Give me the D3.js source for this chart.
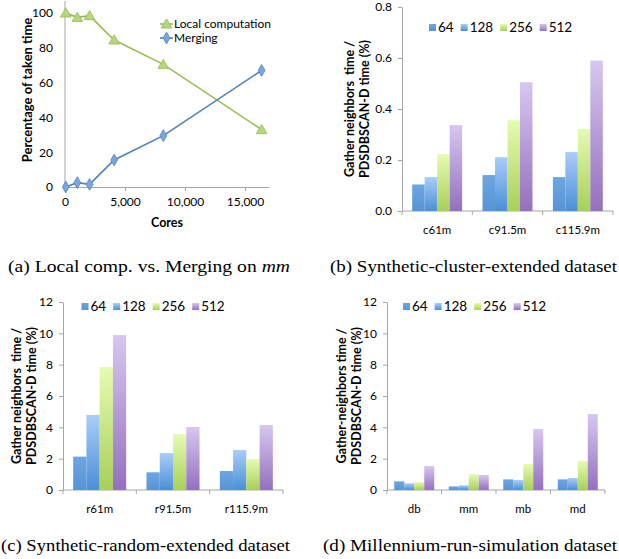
<!DOCTYPE html>
<html>
<head>
<meta charset="utf-8">
<script src="https://cdn.jsdelivr.net/npm/d3@7"></script>
<style>
  body { margin: 0; background: #fff; }
  text { font-family: Lato, "Open Sans", sans-serif; fill: #000; white-space: pre; }
  .cap { font-family: "Liberation Serif", "Times New Roman", serif; }
</style>
</head>
<body>
<script>
// (a) local computation vs merging
var cores = [64, 1024, 2048, 4096, 8192, 16384];
var localComp = [100, 97.5, 98.5, 84.5, 70.5, 33];
var merging = [0, 2.5, 1.5, 15.5, 29.5, 67];

// bar series
var seriesNames = ["64", "128", "256", "512"];
var clusterCats = ["c61m", "c91.5m", "c115.9m"];
var clusterVals = [
  [0.104, 0.133, 0.223, 0.337],
  [0.141, 0.211, 0.356, 0.505],
  [0.133, 0.231, 0.322, 0.59]
];
var randomCats = ["r61m", "r91.5m", "r115.9m"];
var randomVals = [
  [2.13, 4.79, 7.85, 9.89],
  [1.13, 2.36, 3.57, 4.02],
  [1.21, 2.55, 1.98, 4.15]
];
var millCats = ["db", "mm", "mb", "md"];
var millVals = [
  [0.55, 0.43, 0.51, 1.53],
  [0.23, 0.30, 1.02, 0.96],
  [0.68, 0.64, 1.66, 3.89],
  [0.68, 0.77, 1.85, 4.85]
];

var width = 619, height = 559;
var axisColor = "#a6a6a6";

var svg = d3.select("body").append("svg")
    .attr("width", width)
    .attr("height", height);

// gradients like excel bars: light top, darker bottom
var grads = [
  ["#6fa5e0", "#5794d6"],
  ["#aacdf8", "#4a8fd8"],
  ["#e6fbb2", "#a8cf58"],
  ["#d7c7ef", "#9470bf"]
];
var defs = svg.append("defs");
grads.forEach(function(g, i) {
  var lg = defs.append("linearGradient")
      .attr("id", "g" + i)
      .attr("x1", 0).attr("y1", 0).attr("x2", 0).attr("y2", 1);
  lg.append("stop").attr("offset", "0%").attr("stop-color", g[0]);
  lg.append("stop").attr("offset", "100%").attr("stop-color", g[1]);
});

function styleAxis(g) {
  g.selectAll("path, line").attr("stroke", axisColor);
  g.selectAll("text").style("font-size", "12px").style("font-family", "Lato, sans-serif");
}

// ---------- panel (a) ----------
(function() {
  var x = d3.scaleLinear().domain([0, 17000]).range([65, 269]);
  var y = d3.scaleLinear().domain([0, 100]).range([187, 13]);

  svg.append("g")
      .attr("transform", "translate(0," + y(0) + ")")
      .call(d3.axisBottom(x).tickValues([0, 5000, 10000, 15000])
        .tickFormat(d3.format(",")).tickSize(4).tickPadding(6).tickSizeOuter(0))
      .call(styleAxis);
  svg.append("g")
      .attr("transform", "translate(" + x(0) + ",0)")
      .call(d3.axisLeft(y).tickValues([0, 20, 40, 60, 80, 100]).tickSize(0).tickPadding(12))
      .call(styleAxis)
      .call(function(g) { g.select(".domain").remove(); });
  svg.append("line")
      .attr("x1", x(0)).attr("x2", x(0)).attr("y1", y(0)).attr("y2", y(100) - 12)
      .attr("stroke", axisColor);

  var line = d3.line().x(function(d, i) { return x(cores[i]); }).y(function(d) { return y(d); });

  var tri = d3.symbol().type(d3.symbolTriangle).size(50);
  var dia = d3.symbol().type(d3.symbolDiamond).size(40);

  svg.append("path").datum(localComp).attr("d", line)
      .attr("fill", "none").attr("stroke", "#9bbb59").attr("stroke-width", 1.6);
  svg.append("path").datum(merging).attr("d", line)
      .attr("fill", "none").attr("stroke", "#4f81bd").attr("stroke-width", 1.6);

  svg.selectAll(".tri").data(localComp).enter().append("path")
      .attr("d", tri)
      .attr("transform", function(d, i) { return "translate(" + x(cores[i]) + "," + (y(d) + 1) + ")"; })
      .attr("fill", "#b5d67a").attr("stroke", "#9bbb59").attr("stroke-width", 0.8);
  svg.selectAll(".dia").data(merging).enter().append("path")
      .attr("d", dia)
      .attr("transform", function(d, i) { return "translate(" + x(cores[i]) + "," + y(d) + ")"; })
      .attr("fill", "#7aa7dd").attr("stroke", "#4f81bd").attr("stroke-width", 0.8);

  // legend
  var lg = [["Local computation", "#9bbb59", tri, "#b5d67a"], ["Merging", "#4f81bd", dia, "#7aa7dd"]];
  lg.forEach(function(d, i) {
    var ly = 24 + i * 14;
    svg.append("line").attr("x1", 160).attr("x2", 173).attr("y1", ly).attr("y2", ly)
        .attr("stroke", d[1]).attr("stroke-width", 1.6);
    svg.append("path").attr("d", d[2]).attr("transform", "translate(166.5," + (ly + (i ? 0 : 1)) + ")")
        .attr("fill", d[3]).attr("stroke", d[1]).attr("stroke-width", 0.8);
    svg.append("text").attr("x", 174).attr("y", ly + 4).style("font-size", "12px").text(d[0]);
  });

  svg.append("text")
      .attr("transform", "translate(27," + ((y(0) + y(100)) / 2 - 10) + ") rotate(-90)")
      .attr("text-anchor", "middle").attr("dy", "0.35em")
      .style("font-size", "13px").style("font-weight", "bold")
      .text("Percentage of taken time");
  svg.append("text")
      .attr("x", (x(0) + x(17000)) / 2).attr("y", 227)
      .attr("text-anchor", "middle")
      .style("font-size", "12.5px").style("font-weight", "bold")
      .text("Cores");
})();

// ---------- bar panels ----------
function barChart(o) {
  var x0 = d3.scaleBand().domain(o.cats).range([o.x0, o.x1])
      .paddingInner(o.pad).paddingOuter(o.pad / 2);
  var x1 = d3.scaleBand().domain(seriesNames).range([0, x0.bandwidth()]);
  var y = d3.scaleLinear().domain([0, o.ymax]).range([o.y0, o.y1]);

  var g = svg.append("g");
  g.append("g")
      .attr("transform", "translate(" + o.x0 + ",0)")
      .call(d3.axisLeft(y).tickValues(o.ticks).tickFormat(o.fmt).tickSize(4).tickPadding(6).tickSizeOuter(0))
      .call(styleAxis);

  // x axis line with ticks at category boundaries
  g.append("line").attr("x1", o.x0).attr("x2", o.x1).attr("y1", o.y0).attr("y2", o.y0)
      .attr("stroke", axisColor);
  var step = x0.step();
  d3.range(o.cats.length + 1).forEach(function(i) {
    var tx = o.x0 + i * step;
    g.append("line").attr("x1", tx).attr("x2", tx).attr("y1", o.y0).attr("y2", o.y0 + 4)
        .attr("stroke", axisColor);
  });

  g.selectAll(".grp").data(o.vals).enter().append("g")
      .attr("transform", function(d, i) { return "translate(" + x0(o.cats[i]) + ",0)"; })
    .selectAll("rect").data(function(d) { return d; }).enter().append("rect")
      .attr("x", function(d, i) { return x1(seriesNames[i]); })
      .attr("width", x1.bandwidth())
      .attr("y", function(d) { return y(d); })
      .attr("height", function(d) { return o.y0 - y(d); })
      .attr("fill", function(d, i) { return "url(#g" + i + ")"; });

  g.selectAll(".cat").data(o.cats).enter().append("text")
      .attr("x", function(d) { return x0(d) + x0.bandwidth() / 2; })
      .attr("y", o.y0 + 23)
      .attr("text-anchor", "middle")
      .style("font-size", "11.5px")
      .text(function(d) { return d; });

  // legend
  var lx = o.legX;
  seriesNames.forEach(function(s, i) {
    g.append("rect").attr("x", lx).attr("y", o.legY - 3.5).attr("width", 7).attr("height", 7)
        .attr("fill", "url(#g" + i + ")");
    var t = g.append("text").attr("x", lx + 9).attr("y", o.legY + 4.5)
        .style("font-size", "13.5px").text(s);
    lx += 9 + t.node().getComputedTextLength() + 7;
  });

  var yl = g.append("text")
      .attr("transform", "translate(" + o.labX + "," + ((o.y0 + o.y1) / 2) + ") rotate(-90)")
      .attr("text-anchor", "middle")
      .style("font-size", "12.5px").style("font-weight", "bold");
  yl.append("tspan").attr("x", 0).attr("dy", "0.35em").text(o.label[0]);
  yl.append("tspan").attr("x", 0).attr("dy", "1.2em").text(o.label[1]);
}

barChart({
  cats: clusterCats, vals: clusterVals, x0: 402, x1: 613, y0: 211, y1: 7,
  ymax: 0.8, ticks: [0, 0.2, 0.4, 0.6, 0.8], fmt: d3.format(".1f"), pad: 0.29,
  legX: 429, legY: 27.5, labX: 350,
  label: ["Gather neighbors  time /", "PDSDBSCAN-D time (%)"]
});
barChart({
  cats: randomCats, vals: randomVals, x0: 63, x1: 283, y0: 490, y1: 302,
  ymax: 12, ticks: [0, 2, 4, 6, 8, 10, 12], fmt: d3.format("d"), pad: 0.277,
  legX: 81.5, legY: 306.5, labX: 17,
  label: ["Gather neighbors  time /", "PDSDBSCAN-D time (%)"]
});
barChart({
  cats: millCats, vals: millVals, x0: 387, x1: 605, y0: 490, y1: 302,
  ymax: 12, ticks: [0, 2, 4, 6, 8, 10, 12], fmt: d3.format("d"), pad: 0.266,
  legX: 403, legY: 306.5, labX: 342,
  label: ["Gather-neighbors time /", "PDSDBSCAN-D time (%)"]
});

// captions
var caps = [
  [149, 272, 282, ["(a) Local comp. vs. Merging on ", "mm"]],
  [473.5, 272, 287, ["(b) Synthetic-cluster-extended dataset"]],
  [145.5, 551, 289, ["(c) Synthetic-random-extended dataset"]],
  [470, 551, 294, ["(d) Millennium-run-simulation dataset"]]
];
caps.forEach(function(c) {
  var t = svg.append("text").attr("class", "cap")
      .attr("x", c[0]).attr("y", c[1]).attr("text-anchor", "middle")
      .style("font-size", "17px");
  t.append("tspan").text(c[3][0]);
  if (c[3][1]) t.append("tspan").style("font-style", "italic").text(c[3][1]);
  t.attr("textLength", c[2]).attr("lengthAdjust", "spacingAndGlyphs");
});
</script>
</body>
</html>
